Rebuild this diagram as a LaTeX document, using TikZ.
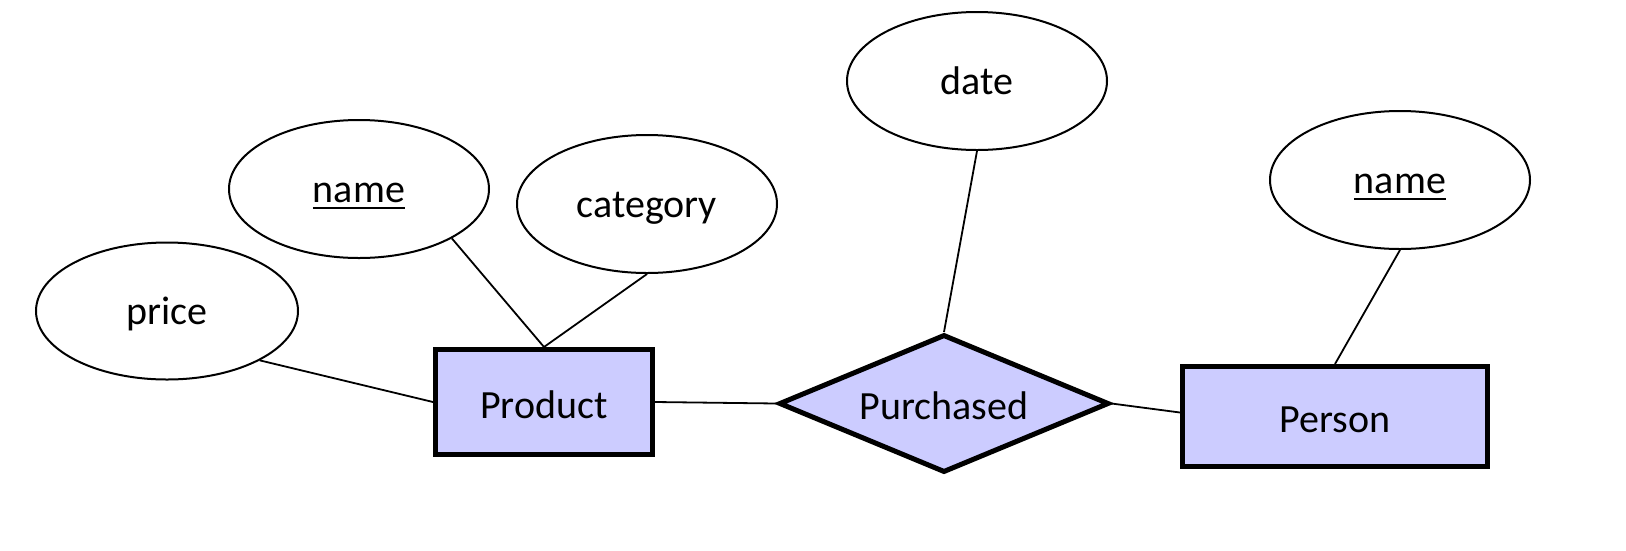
\documentclass[tikz,border=0pt]{standalone}
\usepackage{fontspec}
\setmainfont{Carlito}
\usetikzlibrary{shapes.geometric}
\definecolor{entfill}{HTML}{CCCCFF}
\newcommand\myul[1]{\setbox0\hbox{#1}\hbox{\rlap{\copy0}\raisebox{-7pt}{\rule{\wd0}{2pt}}}}
\begin{document}
\begin{tikzpicture}[x=1pt,y=-1pt,
  attr/.style={ellipse,draw,line width=2pt,fill=white,inner sep=0pt,minimum width=260pt,minimum height=138pt,text height=30pt,text depth=4pt,font=\fontsize{40}{48}\selectfont},
  ent/.style={rectangle,draw,line width=5pt,fill=entfill,inner sep=0pt,text height=32pt,text depth=0pt,font=\fontsize{40}{48}\selectfont},
  rel/.style={diamond,draw,line width=5pt,fill=entfill,inner sep=0pt,aspect=2.4,minimum width=330pt,minimum height=138pt,text height=32pt,text depth=0pt,font=\fontsize{40}{48}\selectfont},
  conn/.style={line width=1.8pt}]
\useasboundingbox (0,0) rectangle (1626,550);
\node[attr,minimum width=262pt,minimum height=137pt] (price) at (167,311) {price};
\node[attr] (pname) at (359,189) {\myul{name}};
\node[attr] (category) at (647,204) {category};
\node[attr] (date) at (977,81) {date};
\node[attr] (hname) at (1400,180) {\myul{name}};
\node[ent,minimum width=217pt,minimum height=105pt] (product) at (544,402) {Product};
\node[rel] (purchased) at (944,403.5) {Purchased};
\node[ent,minimum width=305pt,minimum height=100pt] (person) at (1335,416.5) {Person};
\draw[conn] (price.-28) -- (product.west);
\draw[conn] (pname.-28) -- (product.north);
\draw[conn] (category.south) -- (product.north);
\draw[conn] (product.east) -- (purchased.west);
\draw[conn] (date.south) -- (purchased.north);
\draw[conn] (purchased.east) -- ([yshift=4pt]person.west);
\draw[conn] (hname.south) -- (person.north);
\end{tikzpicture}
\end{document}
